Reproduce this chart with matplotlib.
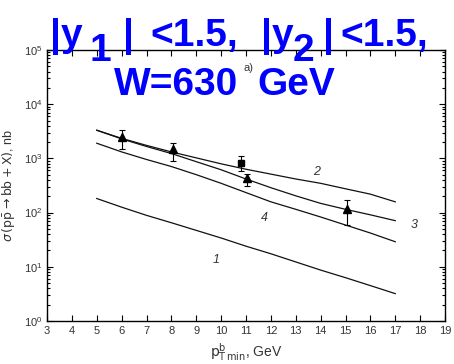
import matplotlib
matplotlib.use("Agg")
import matplotlib.pyplot as plt
from matplotlib.ticker import LogLocator, NullFormatter, FixedLocator

pt = [5, 6, 7, 8, 9, 10, 11, 12, 13, 14, 15, 16, 17]
curve1 = [182, 126, 89, 65, 47, 34, 24, 17.4, 12.3, 8.7, 6.3, 4.5, 3.2]
curve2 = [3311, 2344, 1738, 1318, 1023, 794, 631, 513, 417, 347, 275, 219, 158]
curve3 = [3310, 2290, 1660, 1230, 870, 617, 417, 288, 204, 148, 115, 91, 71]
curve4 = [1905, 1318, 955, 708, 501, 347, 234, 158, 115, 83, 59, 42, 29]

tri_x = [6, 8.05, 11.05, 15.06]
tri_y = [2500, 1480, 427, 115]
tri_lo = [1480, 890, 316, 60]
tri_hi = [3310, 1950, 513, 170]

sq_x = [10.8]
sq_y = [830]
sq_lo = [575]
sq_hi = [1120]

labels = ["1", "2", "3", "4"]
label_x = [9.81, 13.85, 17.78, 11.73]
label_y = [13.5, 560, 59, 81]

W, H = 454, 364
fig = plt.figure(figsize=(W / 100, H / 100), dpi=100)
ax = fig.add_axes([47 / W, 1 - 321 / H, (445 - 47) / W, (321 - 50) / H])

lc = "#111111"
for c in (curve1, curve2, curve3, curve4):
    ax.plot(pt, c, color=lc, lw=0.9)

ax.errorbar(tri_x, tri_y,
            yerr=[[y - l for y, l in zip(tri_y, tri_lo)], [h - y for y, h in zip(tri_y, tri_hi)]],
            fmt="^", color="black", ms=6, elinewidth=0.8, capsize=2, capthick=0.8)
ax.errorbar(sq_x, sq_y,
            yerr=[[y - l for y, l in zip(sq_y, sq_lo)], [h - y for y, h in zip(sq_y, sq_hi)]],
            fmt="s", color="black", ms=5, elinewidth=0.8, capsize=2, capthick=0.8)

for t, x, y in zip(labels, label_x, label_y):
    ax.text(x, y, t, fontsize=9, style="italic", color="#333333", ha="center", va="center",
            family="Liberation Sans")

ax.text(11.1, 10 ** 4.66, "a)", fontsize=8, color="#333333", ha="center", va="center",
        family="Liberation Sans")

ax.set_yscale("log")
ax.set_xlim(3, 19)
ax.set_ylim(1, 1e5)
ax.xaxis.set_major_locator(FixedLocator(list(range(3, 20))))
ax.yaxis.set_major_locator(LogLocator(base=10, numticks=10))
ax.yaxis.set_minor_locator(LogLocator(base=10, subs=range(2, 10), numticks=10))
ax.yaxis.set_minor_formatter(NullFormatter())
ax.tick_params(which="both", direction="in", top=True, right=True, labelsize=8,
               labelcolor="#333333", width=0.8)
ax.tick_params(which="major", length=4)
ax.tick_params(which="minor", length=2)
for lab in ax.get_xticklabels() + ax.get_yticklabels():
    lab.set_family("Liberation Sans")
for s in ax.spines.values():
    s.set_linewidth(1.0)

ax.set_ylabel(r"$\sigma\,(\mathrm{p\bar{p}}\rightarrow \mathrm{b\bar{b}}+\mathrm{X})$, nb",
              fontsize=9, color="#333333", family="Liberation Sans", labelpad=4)
ax.set_xlabel(r"$\mathrm{p}_{\mathrm{T\,min}}^{\mathrm{b}}$, GeV", fontsize=10, color="#333333",
              family="Liberation Sans", labelpad=4)

blue = "#0000ff"
tk = dict(color=blue, fontsize=28, fontweight="bold", family="Liberation Sans",
          ha="left", va="baseline")

def ft(x, y, s):
    fig.text(x / W, 1 - y / H, s, **tk)

ft(50, 46, "|y")
ft(89, 61, "1")
ft(123, 46, "|")
ft(150, 46, "<1.5,")
ft(261, 46, "|y")
ft(293, 61, "2")
ft(323, 46, "|")
ft(340, 46, "<1.5,")
ft(114, 95, "W=630")
ft(257, 95, "GeV")

fig.savefig("out.png", dpi=100)
